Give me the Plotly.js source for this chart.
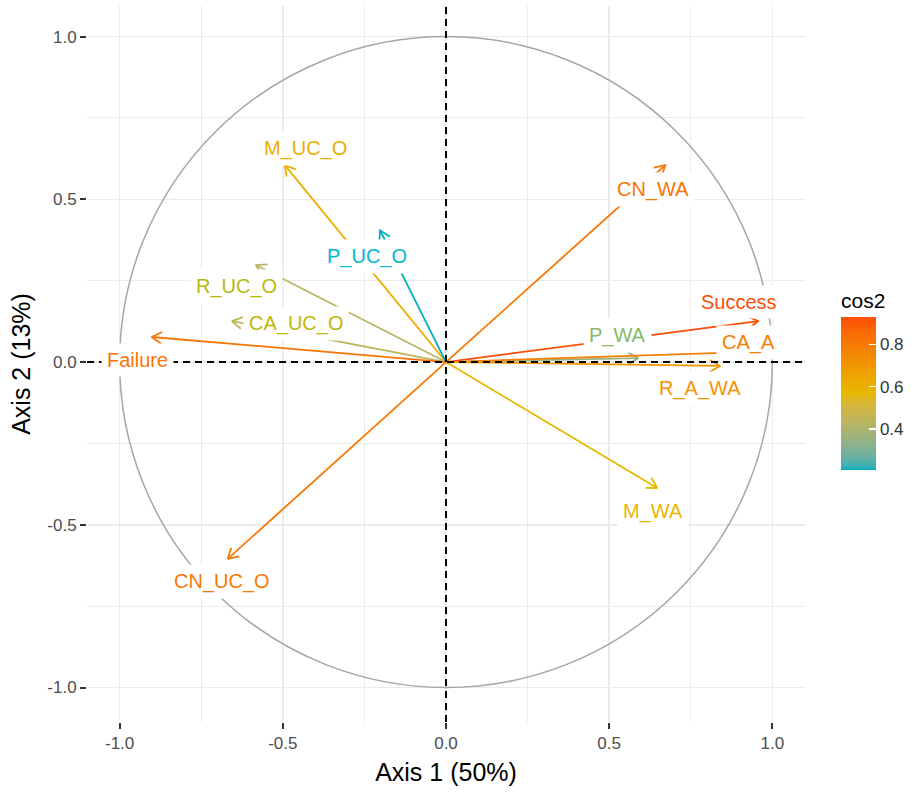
<!DOCTYPE html>
<html><head><meta charset="utf-8">
<script src="https://cdn.plot.ly/plotly-3.0.1.min.js"></script>
<style>body{margin:0;background:#fff}</style>
</head><body><div id="chart" style="width:922px;height:794px"></div>
<script>
// ---- data ----
const variables = ["M_UC_O","P_UC_O","R_UC_O","CA_UC_O","Failure","CN_UC_O","CN_WA","Success","P_WA","CA_A","R_A_WA","M_WA"];
const dim1 = [-0.494,-0.202,-0.583,-0.656,-0.902,-0.669,0.672,0.957,0.589,0.890,0.840,0.647];
const dim2 = [0.605,0.405,0.298,0.126,0.077,-0.605,0.605,0.126,0.012,0.030,-0.012,-0.387];
const cos2 = [0.61,0.205,0.43,0.446,0.82,0.81,0.82,0.93,0.347,0.79,0.706,0.57];
const axisTickVals = [-1,-0.5,0,0.5,1];
const axisTickText = ["-1.0","-0.5","0.0","0.5","1.0"];
const cbTickVals = [0.4,0.6,0.8];
const cbTickText = ["0.4","0.6","0.8"];

// ---- layout / style (label offsets in px from arrow tip) ----
const labelShift = {M_UC_O:[21,17],P_UC_O:[-13,-26],R_UC_O:[-19,-21],CA_UC_O:[64,-2],Failure:[-14,-23],
  CN_UC_O:[-6,-23],CN_WA:[-12,-24],Success:[-19,19],P_WA:[-21,23],CA_A:[12,10],R_A_WA:[-20,-23],M_WA:[-4,-23]};
const FONT = "Liberation Sans, Arial, Helvetica, sans-serif";
const baseStops = [[0,"#00AFBB"],[0.5,"#E7B800"],[1,"#FC4E07"]];
const cmin = Math.min(...cos2), cmax = Math.max(...cos2);

// --- colour helpers: CIELAB interpolation (ggplot gradientn) ---
function hex2rgb(h){return [1,3,5].map(i=>parseInt(h.slice(i,i+2),16));}
function toLin(c){c/=255;return c<=0.04045?c/12.92:Math.pow((c+0.055)/1.055,2.4);}
function fromLin(c){const v=c<=0.0031308?12.92*c:1.055*Math.pow(c,1/2.4)-0.055;return Math.round(Math.max(0,Math.min(1,v))*255);}
const WX=0.95047,WY=1,WZ=1.08883;
function f(t){return t>0.008856?Math.cbrt(t):(7.787*t+16/116);}
function fi(t){return t*t*t>0.008856?t*t*t:(t-16/116)/7.787;}
function rgb2lab(rgb){
  const [r,g,b]=rgb.map(toLin);
  const X=(0.4124*r+0.3576*g+0.1805*b)/WX,Y=(0.2126*r+0.7152*g+0.0722*b)/WY,Z=(0.0193*r+0.1192*g+0.9505*b)/WZ;
  const fx=f(X),fy=f(Y),fz=f(Z);
  return [116*fy-16,500*(fx-fy),200*(fy-fz)];
}
function lab2rgb(lab){
  const fy=(lab[0]+16)/116,fx=fy+lab[1]/500,fz=fy-lab[2]/200;
  const X=fi(fx)*WX,Y=fi(fy)*WY,Z=fi(fz)*WZ;
  const r=3.2406*X-1.5372*Y-0.4986*Z,g=-0.9689*X+1.8758*Y+0.0415*Z,b=0.0557*X-0.2040*Y+1.0570*Z;
  return [fromLin(r),fromLin(g),fromLin(b)];
}
const labStops = baseStops.map(s=>[s[0],rgb2lab(hex2rgb(s[1]))]);
function labAtT(t){
  t=Math.max(0,Math.min(1,t));
  for(let k=0;k<baseStops.length-1;k++){
    const t0=baseStops[k][0],t1=baseStops[k+1][0];
    if(t<=t1+1e-9){
      const q=(t-t0)/(t1-t0), a=labStops[k][1], b=labStops[k+1][1];
      return a.map((x,j)=>x+(b[j]-x)*q);
    }
  }
}
function colorAtT(t,boost){
  const lab=labAtT(t);
  if(boost){
    const C=Math.hypot(lab[1],lab[2]), h=Math.atan2(lab[2],lab[1]);
    const C2=Math.max(C,Math.min(75,C*boost));
    lab[1]=C2*Math.cos(h); lab[2]=C2*Math.sin(h);
  }
  const c=lab2rgb(lab);
  return `rgb(${c[0]},${c[1]},${c[2]})`;
}
function colorFor(v,boost){return colorAtT((v-cmin)/(cmax-cmin),boost);}
const fineScale=[];for(let k=0;k<=40;k++){fineScale.push([k/40,colorAtT(k/40)]);}

const traces = [];
const annotations = [];
const headLen = 0.036, headAng = Math.PI/6;
variables.forEach((name,i)=>{
  const x=dim1[i], y=dim2[i], col=colorFor(cos2[i]), tcol=colorFor(cos2[i],1.7);
  const ang=Math.atan2(y,x);
  const h1x=x-headLen*Math.cos(ang-headAng), h1y=y-headLen*Math.sin(ang-headAng);
  const h2x=x-headLen*Math.cos(ang+headAng), h2y=y-headLen*Math.sin(ang+headAng);
  traces.push({type:"scatter",mode:"lines",x:[0,x,null,h1x,x,h2x],y:[0,y,null,h1y,y,h2y],
    line:{color:col,width:1.8},hoverinfo:"skip",showlegend:false});
  const s=labelShift[name];
  annotations.push({x:x,y:y,xref:"x",yref:"y",text:name,showarrow:false,xshift:s[0],yshift:s[1],
    font:{family:FONT,size:20,color:tcol},bgcolor:"#ffffff",borderpad:5});
});
// colour scale carrier
traces.push({type:"scatter",mode:"markers",x:dim1,y:dim2,hoverinfo:"skip",showlegend:false,
  marker:{size:0.1,color:cos2,colorscale:fineScale,cmin:cmin,cmax:cmax,showscale:true,
    colorbar:{x:(841-87)/718,xanchor:"left",xref:"paper",y:(722-379.5)/716,yanchor:"middle",
      len:181,lenmode:"pixels",thickness:35,thicknessmode:"pixels",xpad:0,ypad:0,outlinewidth:0,
      tickvals:cbTickVals,ticktext:cbTickText,ticks:"inside",ticklen:7,tickcolor:"#ffffff",tickwidth:1.5,
      tickfont:{family:FONT,size:17,color:"#333"},
      title:{text:"cos2",side:"top",font:{family:FONT,size:21,color:"#000"}}}}});

const axCommon = {tickvals:axisTickVals,ticktext:axisTickText,showgrid:true,gridcolor:"#ebebeb",gridwidth:1.5,
  zeroline:false,showline:false,ticks:"outside",ticklen:6,tickwidth:2,tickcolor:"#333",
  tickfont:{family:FONT,size:17,color:"#4d4d4d"},automargin:false};

const layout = {
  width:922,height:794,margin:{l:87,r:117,t:6,b:72},
  paper_bgcolor:"#fff",plot_bgcolor:"#fff",font:{family:FONT},
  xaxis:Object.assign({},axCommon,{range:[-1.1,1.1],
    minor:{tickvals:[-0.75,-0.25,0.25,0.75],showgrid:true,gridcolor:"#ebebeb",gridwidth:1,ticks:""},
    title:{text:"Axis 1 (50%)",font:{family:FONT,size:25,color:"#000"},standoff:11}}),
  yaxis:Object.assign({},axCommon,{range:[-1.106,1.094],
    minor:{tickvals:[-0.75,-0.25,0.25,0.75],showgrid:true,gridcolor:"#ebebeb",gridwidth:1,ticks:""},
    title:{text:"Axis 2 (13%)",font:{family:FONT,size:25,color:"#000"},standoff:9}}),
  shapes:[
    {type:"circle",xref:"x",yref:"y",x0:-1,y0:-1,x1:1,y1:1,line:{color:"#a6a6a6",width:1.5},layer:"between"},
    {type:"line",xref:"x",yref:"paper",x0:0,x1:0,y0:0,y1:1,line:{color:"#000",width:2,dash:"7px,5px"}},
    {type:"line",xref:"paper",yref:"y",x0:0,x1:1,y0:0,y1:0,line:{color:"#000",width:2,dash:"7px,5px"}}
  ],
  annotations:annotations
};
Plotly.newPlot("chart",traces,layout,{displayModeBar:false,staticPlot:true});
</script></body></html>
